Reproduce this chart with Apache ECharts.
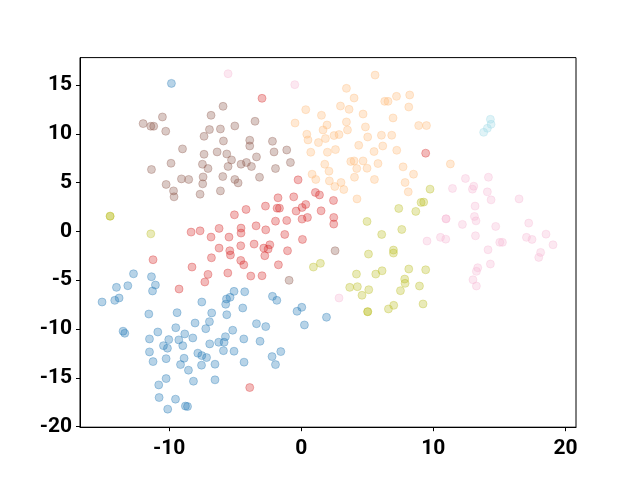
<!DOCTYPE html>
<html>
<head>
<meta charset="utf-8">
<script src="https://cdn.jsdelivr.net/npm/echarts@6/dist/echarts.min.js"></script>
<style>
  html, body { margin: 0; padding: 0; background: #fff; }
  #box { width: 640px; height: 480px; }
</style>
</head>
<body>
<div id="box"></div>
<script>
// tick labels
const xTicks = [-10, 0, 10, 20];
const yTicks = [-20, -15, -10, -5, 0, 5, 10, 15];

// clusters, [x, y]
const bluePts = [
  [-9.83,15.16],
  [-12.70,-4.34],[-11.34,-4.64],[-13.99,-5.73],[-13.13,-5.56],[-11.04,-5.49],[-11.26,-6.10],[-15.08,-7.23],
  [-14.12,-7.06],[-13.79,-6.82],[-5.09,-6.14],[-4.28,-6.18],[-5.66,-6.92],[-5.39,-6.75],[-7.53,-7.23],
  [-5.72,-7.46],[-4.43,-7.84],[-11.54,-8.46],[-9.40,-8.32],[-6.78,-8.35],[-5.64,-8.53],[-6.95,-9.24],
  [-8.04,-9.38],[-7.23,-9.96],[-9.50,-9.86],[-13.49,-10.22],[-13.36,-10.43],[-10.86,-10.30],[-5.19,-10.12],
  [-8.82,-10.50],[-11.49,-11.01],[-10.03,-11.08],[-9.27,-11.11],[-8.21,-10.91],[-5.74,-10.78],[-6.25,-11.35],
  [-5.84,-11.35],[-4.35,-11.01],[-10.43,-11.70],[-10.13,-11.96],[-8.97,-11.70],[-6.93,-11.52],[-11.49,-12.34],
  [-7.83,-12.47],[-7.53,-12.72],[-7.17,-12.92],[-5.89,-12.21],[-5.09,-12.27],[-10.23,-13.03],[-8.87,-12.99],
  [-11.22,-13.33],[-9.14,-13.64],[-7.55,-13.70],[-6.53,-13.60],[-4.33,-13.39],[-8.54,-14.21],[-10.23,-15.07],
  [-10.79,-15.72],[-8.16,-15.34],[-6.53,-15.20],[-10.76,-17.01],[-9.52,-17.18],[-10.11,-18.20],[-8.77,-17.89],
  [-8.61,-17.93],
  [-2.18,-6.65],[-1.85,-7.06],[0.04,-7.77],[-0.32,-8.18],[1.91,-8.79],[0.24,-9.58],[-3.39,-9.45],[-2.69,-9.75],
  [-3.12,-11.25],[-1.55,-12.31],[-2.21,-12.82],[-1.95,-13.64]
];
const brownPts = [
  [-5.92,12.81],[-10.51,11.72],[-6.83,11.89],[-11.97,11.04],[-11.39,10.77],[-11.17,10.77],[-10.26,10.26],
  [-6.95,10.43],[-6.12,10.49],[-5.03,10.80],[-7.36,9.74],[-5.89,9.26],[-3.90,9.34],[-3.90,8.75],[-8.99,8.45],
  [-7.36,7.90],[-6.37,8.14],[-5.64,7.93],[-5.28,7.32],[-9.86,6.98],[-7.48,6.88],[-7.06,6.44],[-5.54,6.65],
  [-4.56,6.88],[-4.15,7.06],[-11.34,6.34],[-3.77,6.65],[-7.43,5.58],[-9.07,5.38],[-8.52,5.32],[-5.94,5.62],
  [-5.03,5.32],[-4.78,4.97],[-10.23,4.81],[-7.46,4.87],[-9.67,4.15],[-9.63,3.54],[-7.66,3.81],[-6.12,4.15],
  [-3.50,11.28],[-2.18,9.23],[-2.06,8.14],[-1.10,8.34],[-3.39,7.63],[-0.82,7.06],[-1.95,6.44],[-3.16,5.55],
  [2.56,-1.98],[-0.92,-5.01]
];
const redPts = [
  [-2.97,13.63],[9.42,8.01],
  [-4.18,2.25],[-5.06,1.70],[-8.34,-0.07],[-7.66,0.06],[-6.22,0.31],[-4.56,0.34],[-4.56,-0.17],[-6.83,-0.58],
  [-5.47,-0.58],
  [-0.24,5.28],[1.07,3.99],[1.38,3.74],[-1.76,3.44],[-0.57,3.54],[2.44,3.17],[0.34,2.76],[0.06,2.45],
  [-0.39,2.08],[-2.71,2.59],[-1.83,2.38],[-1.65,2.38],[1.50,2.11],[0.47,1.43],[0.06,1.26],[-1.10,1.12],
  [-1.95,1.05],[2.46,1.43],[2.46,0.75],[-3.42,0.57],[-2.69,0.16],[-1.25,-0.31],[0.09,-0.82],
  [-4.58,-1.47],[-6.22,-1.71],[-5.41,-1.98],[-5.36,-2.42],[-6.80,-2.70],[-11.22,-2.90],[-4.58,-2.97],
  [-4.35,-3.42],[-8.27,-3.65],[-7.06,-4.40],[-5.56,-4.26],[-7.30,-5.18],[-9.25,-5.90],[-3.90,-15.99],
  [-3.57,-1.30],[-2.38,-1.37],[-2.84,-1.71],[-2.51,-1.81],[-1.04,-1.98],[-2.76,-2.49],[-1.73,-3.42],
  [-3.82,-4.57],[-2.97,-4.54]
];
const orangePts = [
  [5.59,16.01],[3.42,14.65],[4.00,13.66],[6.32,13.32],[6.57,13.32],[7.21,13.83],[8.21,13.97],[8.14,12.74],
  [2.97,12.84],[3.62,12.50],[0.34,12.47],[4.68,12.02],[1.53,11.89],[6.95,11.62],[-0.47,11.10],[3.42,11.21],
  [1.95,10.90],[4.86,10.70],[1.65,10.39],[3.50,10.39],[0.42,9.95],[2.48,9.82],[2.86,9.92],[1.83,9.51],
  [0.51,9.37],[5.03,9.67],[6.07,9.85],[6.85,9.85],[1.30,9.10],[4.35,8.82],[6.17,8.75],[0.72,8.11],[1.98,8.11],
  [2.59,8.38],[5.51,8.18],[7.23,8.31],[3.75,7.16],[4.00,7.22],[4.68,7.22],[1.78,6.88],[4.20,6.44],[4.98,6.47],
  [5.81,6.95],[7.71,6.61],[2.10,6.17],[0.82,5.86],[1.10,5.32],[4.03,5.55],[2.13,5.17],[5.54,5.32],[8.50,5.86],
  [3.01,5.01],[2.54,4.60],[3.22,4.29],[7.86,5.01],[8.10,4.05],[4.22,3.33],[8.89,10.84],[9.48,10.84],[11.29,6.91]
];
const olivePts = [
  [-14.47,1.56],[-14.47,1.56],[-11.39,-0.25],[7.38,2.35],[8.67,2.05],[4.98,1.02],[7.61,0.20],[6.09,-0.31],
  [9.75,4.33],[9.07,2.97],[9.27,3.00],[9.42,-3.93],[8.95,-5.59],[9.22,-7.43],[0.92,-3.65],[1.45,-3.27],
  [5.09,-2.32],[6.98,-1.91],[6.98,-2.22],[8.14,-3.85],[4.18,-4.37],[5.64,-4.37],[6.12,-4.03],[3.67,-5.73],
  [4.25,-5.66],[5.11,-5.97],[4.60,-6.54],[7.83,-4.88],[7.86,-5.32],[7.51,-6.07],[5.03,-8.22],[5.03,-8.22],
  [6.60,-7.94],[7.00,-7.57]
];
const pinkPts = [
  [-5.54,16.15],[-0.49,15.03],[2.86,-6.82],[12.43,5.42],[14.17,5.55],[11.45,4.40],[13.06,4.63],[12.96,4.33],
  [14.09,4.05],[14.37,3.23],[16.49,3.33],[13.16,2.59],[10.96,1.29],[10.96,1.29],[13.11,1.53],[13.23,1.08],
  [12.20,0.72],[14.72,0.51],[17.22,0.85],[18.53,-0.28],[9.52,-0.99],[10.54,-0.61],[10.94,-0.79],[13.19,-0.45],
  [15.03,-1.12],[15.23,-1.12],[17.05,-0.61],[17.47,-0.82],[19.06,-1.37],[14.14,-1.88],[18.12,-2.15],
  [17.98,-2.66],[14.32,-3.34],[13.36,-3.72],[13.26,-4.09],[13.00,-4.95],[13.26,-5.59]
];
const cyanPts = [[14.32,11.48],[14.37,10.97],[14.09,10.56],[13.81,10.15]];

const clusters = [
  { data: bluePts,   rgb: "31,119,180" },
  { data: brownPts,  rgb: "140,86,75" },
  { data: redPts,    rgb: "214,39,40" },
  { data: orangePts, rgb: "255,187,120" },
  { data: olivePts,  rgb: "188,189,34" },
  { data: pinkPts,   rgb: "247,182,210" },
  { data: cyanPts,   rgb: "158,218,229" }
];

const labelFont = { fontFamily: "Roboto", fontWeight: "bold", fontSize: 21, color: "#000" };

let myChart = echarts.init(document.getElementById("box"));
let option = {
  animation: false,
  grid: { left: 80, right: 64, top: 57.6, bottom: 52.8, show: true, borderColor: "#000", borderWidth: 1, backgroundColor: "transparent" },
  xAxis: {
    type: "value",
    min: -16.75, max: 20.8,
    axisLine: { show: true, onZero: false, lineStyle: { color: "#000", width: 1 } },
    axisTick: { show: true, inside: false, length: 4, customValues: xTicks, lineStyle: { color: "#000" } },
    axisLabel: Object.assign({ margin: 11, customValues: xTicks }, labelFont),
    splitLine: { show: false }
  },
  yAxis: {
    type: "value",
    min: -20.05, max: 17.8,
    axisLine: { show: true, onZero: false, lineStyle: { color: "#000", width: 1 } },
    axisTick: { show: true, inside: false, length: 4, customValues: yTicks, lineStyle: { color: "#000" } },
    axisLabel: Object.assign({ margin: 8, customValues: yTicks }, labelFont),
    splitLine: { show: false }
  },
  series: clusters.map(c => ({
    type: "scatter",
    data: c.data,
    symbol: "circle",
    symbolSize: 8,
    itemStyle: {
      color: "rgba(" + c.rgb + ",0.4)",
      borderColor: "rgba(" + c.rgb + ",0.4)",
      borderWidth: 1
    }
  }))
};
myChart.setOption(option);
</script>
</body>
</html>
